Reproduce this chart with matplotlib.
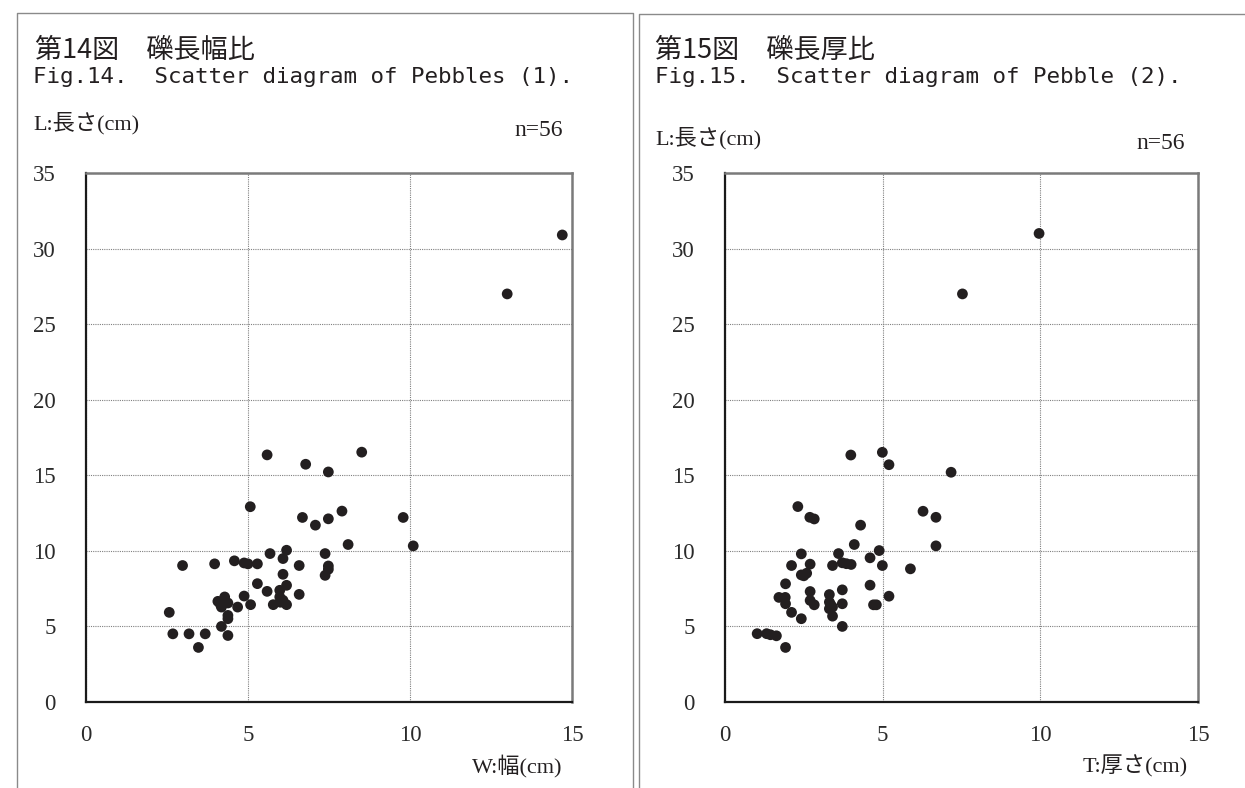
import matplotlib
matplotlib.use("Agg")
import matplotlib.pyplot as plt
from matplotlib.lines import Line2D

# ---- data ----
w_width = [5.59, 8.51, 6.78, 7.48, 5.07, 6.68, 7.08, 7.48, 7.90, 9.79, 8.09, 10.10,
           5.68, 6.19, 6.08, 7.38, 2.98, 3.97, 4.58, 4.88, 5.00, 5.29, 6.58, 7.48,
           7.48, 7.38, 6.08, 5.29, 6.19, 5.59, 5.98, 6.58, 4.88, 4.28, 4.07, 4.38,
           4.18, 4.68, 5.08, 5.78, 5.98, 6.19, 6.08, 2.57, 4.38, 4.38, 4.18, 2.68,
           3.18, 3.68, 4.38, 3.47, 13.0, 14.7, 4.15, 6.00]
l_left = [16.35, 16.53, 15.73, 15.22, 12.92, 12.21, 11.70, 12.12, 12.63, 12.21, 10.42, 10.33,
          9.82, 10.04, 9.49, 9.82, 9.03, 9.14, 9.34, 9.20, 9.14, 9.14, 9.03, 9.00,
          8.78, 8.38, 8.45, 7.83, 7.72, 7.32, 7.39, 7.12, 7.01, 6.95, 6.66, 6.55,
          6.28, 6.28, 6.44, 6.44, 6.95, 6.44, 6.73, 5.93, 5.73, 5.51, 5.00, 4.51,
          4.51, 4.51, 4.40, 3.61, 27.0, 30.9, 6.45, 6.60]

t_thick = [3.99, 4.99, 5.20, 7.17, 2.31, 2.69, 2.83, 6.28, 6.69, 4.30, 4.10, 6.69,
           2.42, 3.60, 4.89, 4.60, 2.11, 2.70, 3.41, 3.72, 4.00, 4.99, 5.88, 2.42,
           2.59, 1.92, 2.70, 3.72, 4.60, 3.31, 5.20, 1.71, 1.91, 1.92, 2.70, 2.83,
           3.31, 3.31, 3.41, 3.72, 4.71, 4.80, 2.11, 2.42, 3.41, 3.72, 1.02, 1.32,
           1.44, 1.63, 1.92, 7.53, 9.96, 3.85, 3.35, 2.50]
l_right = [16.34, 16.52, 15.70, 15.20, 12.93, 12.22, 12.11, 12.62, 12.22, 11.70, 10.42, 10.33,
           9.80, 9.82, 10.02, 9.54, 9.03, 9.12, 9.03, 9.21, 9.10, 9.03, 8.81, 8.41,
           8.52, 7.82, 7.31, 7.42, 7.73, 7.11, 7.00, 6.92, 6.92, 6.50, 6.72, 6.43,
           6.61, 6.17, 6.28, 6.50, 6.43, 6.43, 5.93, 5.51, 5.68, 5.00, 4.52, 4.52,
           4.45, 4.38, 3.61, 27.0, 31.0, 9.15, 6.45, 8.35]

x_ticks = [0, 5, 10, 15]
y_ticks = [0, 5, 10, 15, 20, 25, 30, 35]

titles_jp = ["第14図　礫長幅比", "第15図　礫長厚比"]
titles_en = ["Fig.14.  Scatter diagram of Pebbles (1).",
             "Fig.15.  Scatter diagram of Pebble (2)."]
y_label = "L:長さ(cm)"
x_labels = ["W:幅(cm)", "T:厚さ(cm)"]
n_label = "n=56"

# ---- figure ----
W, H = 1245, 788
fig = plt.figure(figsize=(W / 100, H / 100), dpi=100)
fig.patch.set_facecolor("white")

def fx(px):
    return px / W

def fy(py):
    return 1 - py / H

serif = ["Liberation Serif", "Noto Sans CJK JP", "DejaVu Sans"]
gothic = ["Noto Sans CJK JP", "DejaVu Sans"]
mono = ["DejaVu Sans Mono", "Noto Sans CJK JP"]

# panel borders
border_c = "#8a8a8a"
fig.add_artist(Line2D([fx(17), fx(17), fx(633), fx(633)], [fy(800), fy(13), fy(13), fy(800)],
                      transform=fig.transFigure, color=border_c, lw=1.0))
fig.add_artist(Line2D([fx(639), fx(639), fx(1250)], [fy(800), fy(14), fy(14)],
                      transform=fig.transFigure, color=border_c, lw=1.0))

panels = [
    dict(ax_px=(86, 572), x=w_width, y=l_left, title_x=35, en_x=33, ylab=(33, 112),
         n=(563, 120), xlab=(562, 755)),
    dict(ax_px=(725, 1198), x=t_thick, y=l_right, title_x=655, en_x=655, ylab=(655, 127),
         n=(1185, 133), xlab=(1188, 755)),
]

ax_top, ax_bot = 173, 702
for i, p in enumerate(panels):
    x0, x1 = p["ax_px"]
    ax = fig.add_axes([fx(x0), fy(ax_bot), (x1 - x0) / W, (ax_bot - ax_top) / H])
    ax.scatter(p["x"], p["y"], s=60, color="#231f20", edgecolors="none", zorder=3)
    ax.set_xlim(0, 15)
    ax.set_ylim(0, 35)
    ax.set_xticks(x_ticks)
    ax.set_yticks(y_ticks)
    ax.set_xticklabels([str(v) for v in x_ticks], family=serif, fontsize=16.5, color="#2a2a2a")
    ax.set_yticklabels([str(v) for v in y_ticks], family=serif, fontsize=16.5, color="#2a2a2a")
    ax.tick_params(axis="both", length=0)
    ax.tick_params(axis="x", pad=16.5)
    ax.tick_params(axis="y", pad=22)
    ax.grid(True, color="#808080", linestyle=(0, (1, 1)), lw=0.8)
    ax.set_axisbelow(True)
    for s in ("top", "right"):
        ax.spines[s].set_color("#7a7a7a")
        ax.spines[s].set_linewidth(1.8)
    for s in ("left", "bottom"):
        ax.spines[s].set_color("#1a1a1a")
        ax.spines[s].set_linewidth(1.6)

    # texts
    fig.text(fx(p["title_x"]), fy(37), titles_jp[i], family=gothic, fontsize=19.5,
             ha="left", va="top", color="#231f20")
    fig.text(fx(p["en_x"]), fy(67), titles_en[i], family=mono, fontsize=16.2,
             ha="left", va="top", color="#231f20")
    fig.text(fx(p["ylab"][0]), fy(p["ylab"][1]), y_label, family=serif, fontsize=16,
             ha="left", va="top", color="#231f20")
    fig.text(fx(p["n"][0]), fy(p["n"][1]), n_label, family=serif, fontsize=17,
             ha="right", va="top", color="#231f20")
    fig.text(fx(p["xlab"][0]), fy(p["xlab"][1]), x_labels[i], family=serif, fontsize=16,
             ha="right", va="top", color="#231f20")

fig.savefig("out.png", dpi=100, facecolor="white")
